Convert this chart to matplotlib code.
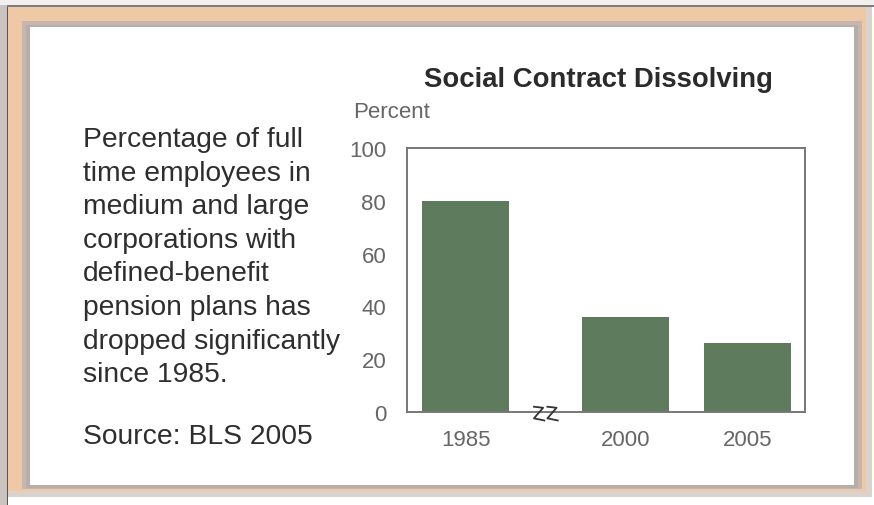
import matplotlib.pyplot as plt
from matplotlib.patches import Rectangle

plt.rcParams['font.family'] = ['Liberation Sans', 'DejaVu Sans']

# data
years = ['1985', '2000', '2005']
percent = [80, 36, 26]
xpos = [0, 1.31, 2.31]   # gap between 1985 and 2000 (axis break)
yticks = [0, 20, 40, 60, 80, 100]

blurb = ("Percentage of full\ntime employees in\nmedium and large\n"
         "corporations with\ndefined-benefit\npension plans has\n"
         "dropped significantly\nsince 1985.")

W, H = 874, 506
fig = plt.figure(figsize=(W / 100, H / 100), dpi=100)
fig.patch.set_facecolor('white')


def box(x0, y0, x1, y1, color, z=0):
    # pixel box, top-left origin
    fig.patches.append(Rectangle((x0 / W, 1 - y1 / H), (x1 - x0) / W, (y1 - y0) / H,
                                 transform=fig.transFigure, facecolor=color,
                                 edgecolor='none', zorder=z))


# picture frame
box(0, 0, 7, H, '#cbc3bf')
box(0, 0, W, 6, '#f2f0ee')
box(7, 6, W, 8, '#7d7d80')
box(7, 8, 8, H, '#555555')
box(8, 8, 872, 498, '#dcd2cc')
box(8, 8, 866, 492, '#efc9a6')
box(22, 22, 862, 490, '#c7b6ad')
box(26, 26, 858, 489, '#b7aeac')
box(30, 28, 854, 486, 'white')

ax = fig.add_axes([407 / W, 1 - 413 / H, (805 - 407) / W, (413 - 149) / H])
ax.set_zorder(5)
ax.set_facecolor('white')
ax.bar(xpos, percent, width=0.71, color='#5f7b5d', zorder=2)
ax.set_xlim(-0.48, 2.78)
ax.set_ylim(0, 100)
ax.set_yticks(yticks)
ax.set_xticks(xpos)
ax.set_xticklabels(years)
ax.tick_params(length=0, labelsize=16, labelcolor='#666666', pad=12)
ax.tick_params(axis='y', pad=15)
for s in ax.spines.values():
    s.set_color('#777777')
    s.set_linewidth(1.4)

# axis break squiggles on the baseline
for xb in (0.60, 0.71):
    ax.plot([xb - 0.04, xb + 0.035, xb - 0.04, xb + 0.045],
            [2.0, 1.6, -2.4, -3.2], color='#333333', lw=1.3,
            clip_on=False, zorder=5)

fig.text(598 / W, 1 - 80 / H, 'Social Contract Dissolving', ha='center', va='center',
         fontsize=19.8, fontweight='bold', color='#2b2b2b', zorder=6)
fig.text(353 / W, 1 - 113 / H, 'Percent', ha='left', va='center',
         fontsize=16, color='#666666', zorder=6)
fig.text(83 / W, 1 - 127 / H, blurb, ha='left', va='top', fontsize=20.3,
         color='#2e2e2e', linespacing=1.38, zorder=6)
fig.text(83 / W, 1 - 437 / H, 'Source: BLS 2005', ha='left', va='center',
         fontsize=20.3, color='#2e2e2e', zorder=6)

fig.savefig('out.png', dpi=100)
